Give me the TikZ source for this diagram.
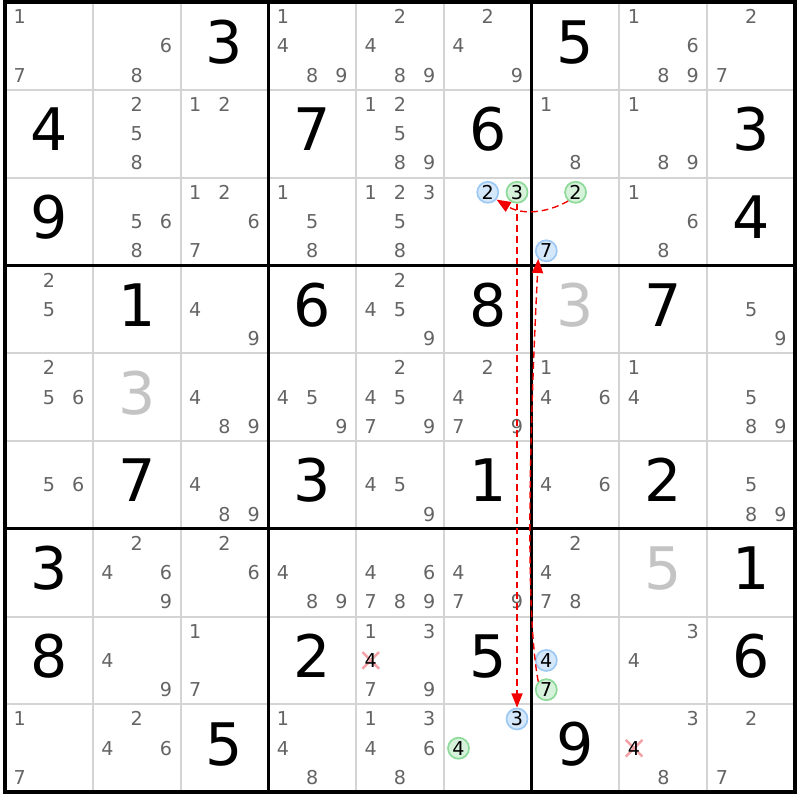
\documentclass[tikz,border=0pt]{standalone}
\usepackage{fontspec}
\setmainfont{DejaVu Sans}
\usetikzlibrary{arrows.meta,positioning}

\definecolor{candgray}{HTML}{646464}
\definecolor{fadegray}{HTML}{C4C4C4}
\definecolor{gridgray}{HTML}{D4D4D4}
\definecolor{onfill}{HTML}{D5E7FA}
\definecolor{ondraw}{HTML}{9DC9F4}
\definecolor{offfill}{HTML}{D6F2DA}
\definecolor{offdraw}{HTML}{8EDA9A}
\definecolor{crosspink}{HTML}{F3A3A8}
\definecolor{linkred}{HTML}{F20000}

\begin{document}
\begin{tikzpicture}[x=1cm,y=-1cm,>={Triangle[length=4.6pt,width=3.6pt]},
    given/.style={font=\fontsize{19}{19}\selectfont,inner sep=0pt,
        text height=13.9pt,text depth=0pt},
    faded/.style={given,text=fadegray},
    cand/.style={font=\fontsize{6.2}{6.5}\selectfont,text=candgray,inner sep=0pt,
        text height=4.5pt,text depth=0pt},
    bluecand/.style={cand,circle,text=black,draw=ondraw,fill=onfill,
        line width=0.55pt,minimum size=0.24cm},
    greencand/.style={bluecand,draw=offdraw,fill=offfill},
    struck/.style={draw=crosspink,line width=0.8pt},
    link/.style={->,draw=linkred,line width=0.45pt,dash pattern=on 2.2pt off 1.3pt},
    thinline/.style={draw=gridgray,line width=0.65pt},
    boxline/.style={draw=black,line width=1.07pt}]

    \useasboundingbox (-0.057,-0.024) rectangle (9.057,9.09);

    % grid
    \foreach \i in {1,...,8} {
        \draw[thinline] (\i,0) -- (\i,9);
        \draw[thinline] (0,\i) -- (9,\i);
    }
    \foreach \i in {3,6} {
        \draw[boxline] (\i,0) -- (\i,9);
        \draw[boxline] (0,\i) -- (9,\i);
    }
    \draw[boxline] (0,0) rectangle (9,9);

    % givens
    \foreach \r/\c/\v in {1/3/3,1/7/5,2/1/4,2/4/7,2/6/6,2/9/3,3/1/9,3/9/4,
        4/2/1,4/4/6,4/6/8,4/8/7,6/2/7,6/4/3,6/6/1,6/8/2,7/1/3,7/9/1,
        8/1/8,8/4/2,8/6/5,8/9/6,9/3/5,9/7/9}
        \node[given] (g\r\c) at (\c-0.5,\r-0.55) {\v};
    \foreach \r/\c/\v in {4/7/3,5/2/3,7/8/5}
        \node[faded] (g\r\c) at (\c-0.5,\r-0.55) {\v};

    % candidates
    \foreach \r/\c/\cands in {1/1/{1,7},1/2/{6,8},1/4/{1,4,8,9},1/5/{2,4,8,9},
        1/6/{2,4,9},1/8/{1,6,8,9},1/9/{2,7},
        2/2/{2,5,8},2/3/{1,2},2/5/{1,2,5,8,9},2/7/{1,8},2/8/{1,8,9},
        3/2/{5,6,8},3/3/{1,2,6,7},3/4/{1,5,8},3/5/{1,2,3,5,8},3/8/{1,6,8},
        4/1/{2,5},4/3/{4,9},4/5/{2,4,5,9},4/9/{5,9},
        5/1/{2,5,6},5/3/{4,8,9},5/4/{4,5,9},5/5/{2,4,5,7,9},5/6/{2,4,7,9},
        5/7/{1,4,6},5/8/{1,4},5/9/{5,8,9},
        6/1/{5,6},6/3/{4,8,9},6/5/{4,5,9},6/7/{4,6},6/9/{5,8,9},
        7/2/{2,4,6,9},7/3/{2,6},7/4/{4,8,9},7/5/{4,6,7,8,9},7/6/{4,7,9},
        7/7/{2,4,7,8},
        8/2/{4,9},8/3/{1,7},8/5/{1,3,7,9},8/8/{3,4},
        9/1/{1,7},9/2/{2,4,6},9/4/{1,4,8},9/5/{1,3,4,6,8},9/8/{3,8},9/9/{2,7}}
        \foreach \d in \cands
            \node[cand] (n\r\c\d) at ({\c-1+(mod(\d-1,3)+0.5)/3},{\r-1+(int((\d-1)/3)+0.5)/3}) {\d};

    % chain candidates
    \foreach \r/\c/\d/\kind in {3/6/2/bluecand,3/6/3/greencand,3/7/2/greencand,
        3/7/7/bluecand,8/7/4/bluecand,8/7/7/greencand,9/6/3/bluecand,9/6/4/greencand}
        \node[\kind] (n\r\c\d) at ({\c-1+(mod(\d-1,3)+0.5)/3},{\r-1+(int((\d-1)/3)+0.5)/3}) {\d};

    % eliminated 4s
    \foreach \r/\c in {8/5,9/8} {
        \coordinate (x\r\c) at ({\c-1+0.5/3},{\r-1+1.5/3});
        \draw[struck] ([shift={(-0.095,-0.095)}]x\r\c) -- ([shift={(0.095,0.095)}]x\r\c)
                      ([shift={(-0.095,0.095)}]x\r\c) -- ([shift={(0.095,-0.095)}]x\r\c);
        \node[cand,text=black] (n\r\c4) at (x\r\c) {4};
    }

    % links
    \draw[link] (n372.230) to[bend left=30] (n362.-40);
    \draw[link] (n363) -- (n963);
    \draw[link] (n877.135) .. controls +(-0.15,-0.8) and +(-0.1,2.0) .. (n377.225);
\end{tikzpicture}
\end{document}
